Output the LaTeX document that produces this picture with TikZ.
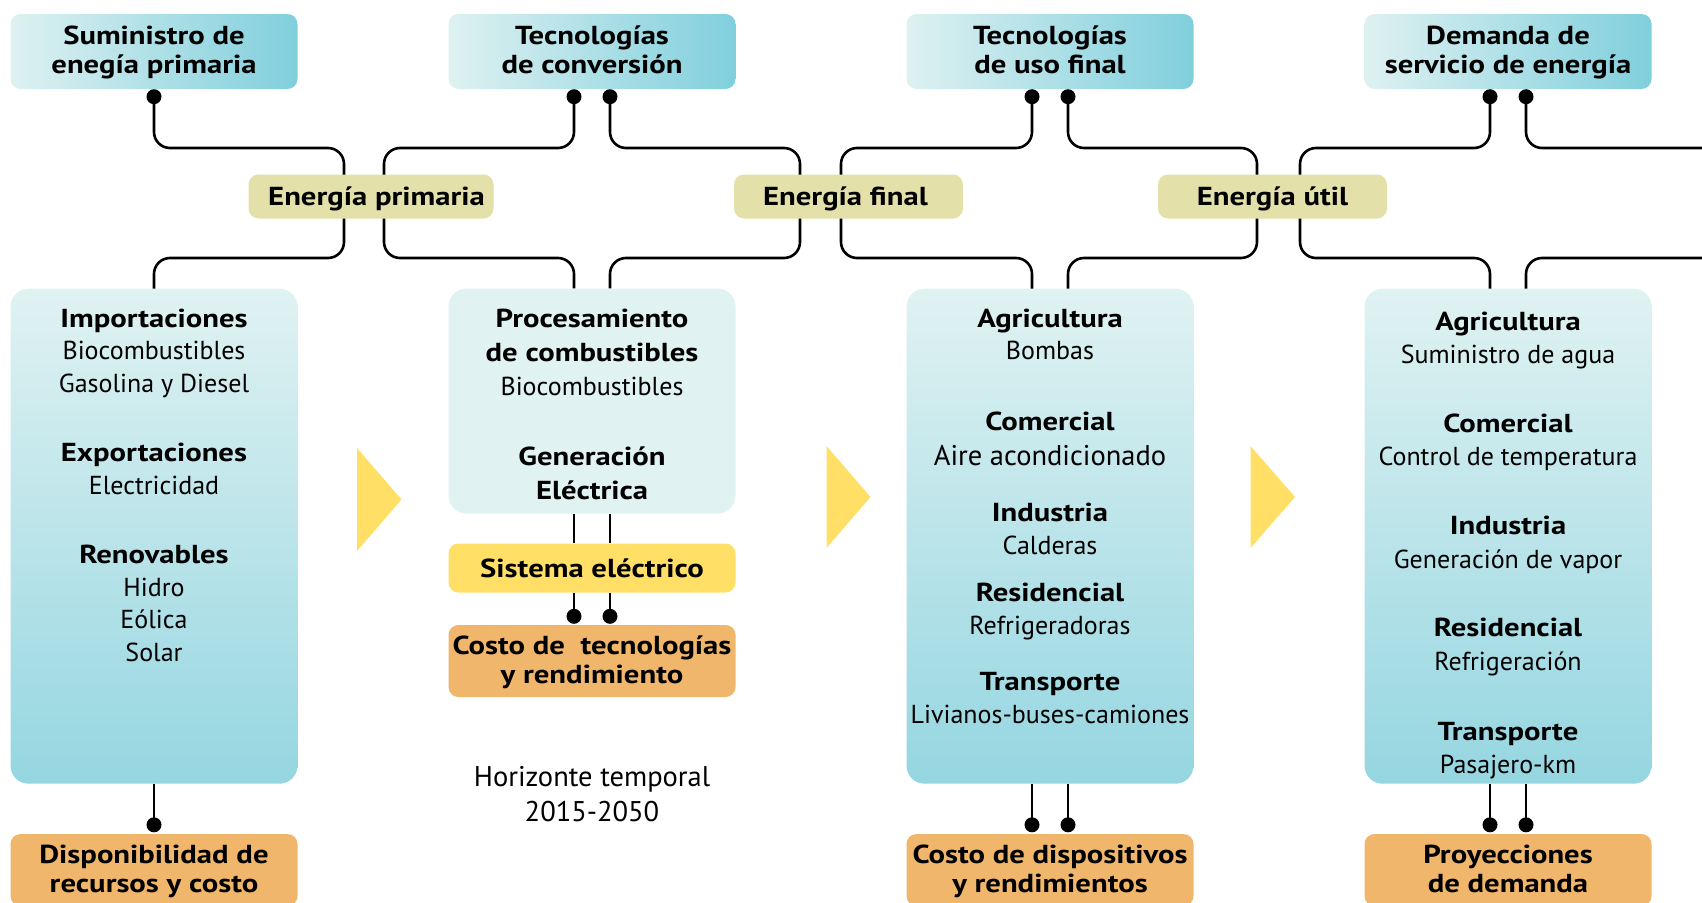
\documentclass[tikz,border=0pt]{standalone}
\usepackage{fontspec}
\setmainfont{PT Sans}[BoldFeatures={FakeStretch=1.18}]
\usetikzlibrary{calc, positioning}
\definecolor{topL}{HTML}{DEF1F1}
\definecolor{topR}{HTML}{80CFDD}
\definecolor{boxT}{HTML}{E0F2F2}
\definecolor{boxB}{HTML}{95D6E1}
\definecolor{olive}{HTML}{E3E1A9}
\definecolor{sunny}{HTML}{FFDF66}
\definecolor{peach}{HTML}{F0B66B}
\newcommand{\capstrut}{\rule[-6pt]{0pt}{27pt}}

\tikzset{
  stage/.style={rounded corners=10pt, minimum width=287pt, minimum height=75pt, left color=topL, right color=topR,
    align=center, inner sep=0pt, font=\bfseries\fontsize{26}{29}\selectfont},
  panel/.style={rounded corners=18pt, minimum width=287pt, inner sep=0pt},
  flow/.style={rounded corners=10pt, fill=olive, minimum width=229pt, minimum height=44pt, inner sep=0pt,
    text height=19pt, text depth=1pt, font=\bfseries\fontsize{26}{29}\selectfont},
  cost/.style={rounded corners=10pt, fill=peach, minimum width=287pt, minimum height=72pt, align=center,
    inner sep=0pt, font=\bfseries\fontsize{26}{29}\selectfont},
  head/.style={inner sep=0pt, text height=19pt, text depth=1pt, font=\bfseries\fontsize{26}{29}\selectfont},
  item/.style={inner sep=0pt, text height=19pt, text depth=1pt, font=\fontsize{26}{29}\selectfont},
  bigitem/.style={item, font=\fontsize{28.5}{32}\selectfont},
  wire/.style={line width=2.6pt, rounded corners=16pt},
  pin/.style={radius=7.5}
}

\begin{document}
\begin{tikzpicture}[x=1pt, y=-1pt]
  \useasboundingbox (0,0) rectangle (1702,902);
  \clip (0,0) rectangle (1702,902);

  % Stages on top
  \node[stage] (sup) at (154,51.5) {\capstrut Suministro de\\\capstrut enegía primaria};
  \node[stage] (conv) at (592,51.5) {\capstrut Tecnologías\\\capstrut de conversión};
  \node[stage] (use) at (1050,51.5) {\capstrut Tecnologías\\\capstrut de uso final};
  \node[stage] (dem) at (1508,51.5) {\capstrut Demanda de\\\capstrut servicio de energía};

  % Panels
  \node[panel, minimum height=495pt, top color=boxT, middle color=boxT!92!boxB, bottom color=boxB] (prim) at (154,536.2) {};
  \node[panel, minimum height=225pt, fill=boxT] (proc) at (592,401) {};
  \node[panel, minimum height=495pt, top color=boxT, middle color=boxT!92!boxB, bottom color=boxB] (fin) at (1050,536.2) {};
  \node[panel, minimum height=495pt, top color=boxT, middle color=boxT!92!boxB, bottom color=boxB] (serv) at (1508,536.2) {};

  % Pins under the stages
  \coordinate (sup-p) at ($(sup.south)+(0,7.5)$);
  \coordinate (conv-p1) at ($(conv.south)+(-18,7.5)$);
  \coordinate (conv-p2) at ($(conv.south)+(18,7.5)$);
  \coordinate (use-p1) at ($(use.south)+(-18,7.5)$);
  \coordinate (use-p2) at ($(use.south)+(18,7.5)$);
  \coordinate (dem-p1) at ($(dem.south)+(-18,7.5)$);
  \coordinate (dem-p2) at ($(dem.south)+(18,7.5)$);
  \coordinate (east-up) at (1710,148);
  \coordinate (east-lo) at (1710,258);

  % Wires
  \draw[wire] (sup-p) |- (344,148) -- (344,258) -| (prim.north);
  \draw[wire] (conv-p1) |- (384,148) -- (384,258) -| ([xshift=-18pt]proc.north);
  \draw[wire] (conv-p2) |- (800,148) -- (800,258) -| ([xshift=18pt]proc.north);
  \draw[wire] (use-p1) |- (841,148) -- (841,258) -| ([xshift=-18pt]fin.north);
  \draw[wire] (use-p2) |- (1257,148) -- (1257,258) -| ([xshift=18pt]fin.north);
  \draw[wire] (dem-p1) |- (1300,148) -- (1300,258) -| ([xshift=-18pt]serv.north);
  \draw[wire] (dem-p2) |- (east-up);
  \draw[wire] ([xshift=18pt]serv.north) |- (east-lo);
  \foreach \p in {sup-p, conv-p1, conv-p2, use-p1, use-p2, dem-p1, dem-p2}
    \fill (\p) circle[pin];

  % Energy labels
  \node[flow, minimum width=245pt] (ep) at (371,196.5) {\hspace*{11pt}Energía primaria};
  \node[flow] (ef) at (848.5,196.5) {Energía final\hspace*{6pt}};
  \node[flow] (eu) at (1272.5,196.5) {Energía útil};

  % Arrows between panels
  \fill[sunny] (357,448) -- (401.5,499.5) -- (357,551) -- cycle;
  \fill[sunny] (826.5,446) -- (870.5,497) -- (826.5,548) -- cycle;
  \fill[sunny] (1250.5,446) -- (1295,497) -- (1250.5,548) -- cycle;

  % Electric system
  \node[cost, fill=sunny, minimum height=49pt, text height=19pt, text depth=1pt] (elec) at (592,568) {Sistema eléctrico};
  \node[cost] (tcost) at (592,661) {\capstrut Costo de\ \ tecnologías\\\capstrut y rendimiento};
  \coordinate (tcost-p1) at ($(tcost.north)+(-18,-8.5)$);
  \coordinate (tcost-p2) at ($(tcost.north)+(18,-8.5)$);
  \draw[line width=2.6pt] ([xshift=-18pt]proc.south) -- ([xshift=-18pt]elec.north);
  \draw[line width=2.6pt] ([xshift=18pt]proc.south) -- ([xshift=18pt]elec.north);
  \draw[line width=2.6pt] ([xshift=-18pt]elec.south) -- (tcost-p1);
  \draw[line width=2.6pt] ([xshift=18pt]elec.south) -- (tcost-p2);
  \fill (tcost-p1) circle[pin];
  \fill (tcost-p2) circle[pin];

  % Cost boxes at the bottom
  \node[cost] (res) at (154,870) {\capstrut Disponibilidad de\\\capstrut recursos y costo};
  \node[cost] (dev) at (1050,870) {\capstrut Costo de dispositivos\\\capstrut y rendimientos};
  \node[cost] (proj) at (1508,870) {\capstrut Proyecciones\\\capstrut de demanda};
  \coordinate (res-p) at ($(res.north)+(0,-9)$);
  \coordinate (dev-p1) at ($(dev.north)+(-18,-9)$);
  \coordinate (dev-p2) at ($(dev.north)+(18,-9)$);
  \coordinate (proj-p1) at ($(proj.north)+(-18,-9)$);
  \coordinate (proj-p2) at ($(proj.north)+(18,-9)$);
  \draw[line width=2.6pt] (prim.south) -- (res-p);
  \draw[line width=2.6pt] ([xshift=-18pt]fin.south) -- (dev-p1);
  \draw[line width=2.6pt] ([xshift=18pt]fin.south) -- (dev-p2);
  \draw[line width=2.6pt] ([xshift=-18pt]serv.south) -- (proj-p1);
  \draw[line width=2.6pt] ([xshift=18pt]serv.south) -- (proj-p2);
  \foreach \p in {res-p, dev-p1, dev-p2, proj-p1, proj-p2}
    \fill (\p) circle[pin];

  % Primary energy panel
  \node[head] (imp) at (154,318) {Importaciones};
  \node[item] (imp-a) at (154,350.5) {Biocombustibles};
  \node[item] (imp-b) at (154,383) {Gasolina y Diesel};
  \node[head] (exp) at (154,452.5) {Exportaciones};
  \node[item] (exp-a) at (154,485) {Electricidad};
  \node[head] (ren) at (154,554.5) {Renovables};
  \node[item] (ren-a) at (154,587) {Hidro};
  \node[item] (ren-b) at (154,619.5) {Eólica};
  \node[item] (ren-c) at (154,652) {Solar};

  % Conversion panel
  \node[head] (pc) at (592,318) {Procesamiento};
  \node[head] (pc-b) at (592,352.5) {de combustibles};
  \node[item] (pc-a) at (592,386.5) {Biocombustibles};
  \node[head] (gen) at (592,456) {Generación};
  \node[head] (gen-b) at (592,490.5) {Eléctrica};

  % Final use panel
  \node[head] (agr) at (1050,318) {Agricultura};
  \node[item] (agr-a) at (1050,350.5) {Bombas};
  \node[head] (com) at (1050,421) {Comercial};
  \node[bigitem] (com-a) at (1050,456) {Aire acondicionado};
  \node[head] (ind) at (1050,512.5) {Industria};
  \node[item] (ind-a) at (1050,545) {Calderas};
  \node[head] (resi) at (1050,592.5) {Residencial};
  \node[item] (resi-a) at (1050,625) {Refrigeradoras};
  \node[head] (tra) at (1050,681.5) {Transporte};
  \node[item] (tra-a) at (1050,714.5) {Livianos-buses-camiones};

  % Service demand panel
  \node[head] (agr2) at (1508,321.5) {Agricultura};
  \node[item] (agr2-a) at (1508,354) {Suministro de agua};
  \node[head] (com2) at (1508,423.5) {Comercial};
  \node[item] (com2-a) at (1508,456) {Control de temperatura};
  \node[head] (ind2) at (1508,525.5) {Industria};
  \node[item] (ind2-a) at (1508,559) {Generación de vapor};
  \node[head] (resi2) at (1508,627.5) {Residencial};
  \node[item] (resi2-a) at (1508,661) {Refrigeración};
  \node[head] (tra2) at (1508,731) {Transporte};
  \node[item] (tra2-a) at (1508,764) {Pasajero-km};

  % Time horizon
  \node[bigitem] (hor) at (592,777) {Horizonte temporal};
  \node[bigitem] (hor-b) at (592,812) {2015-2050};
\end{tikzpicture}
\end{document}
